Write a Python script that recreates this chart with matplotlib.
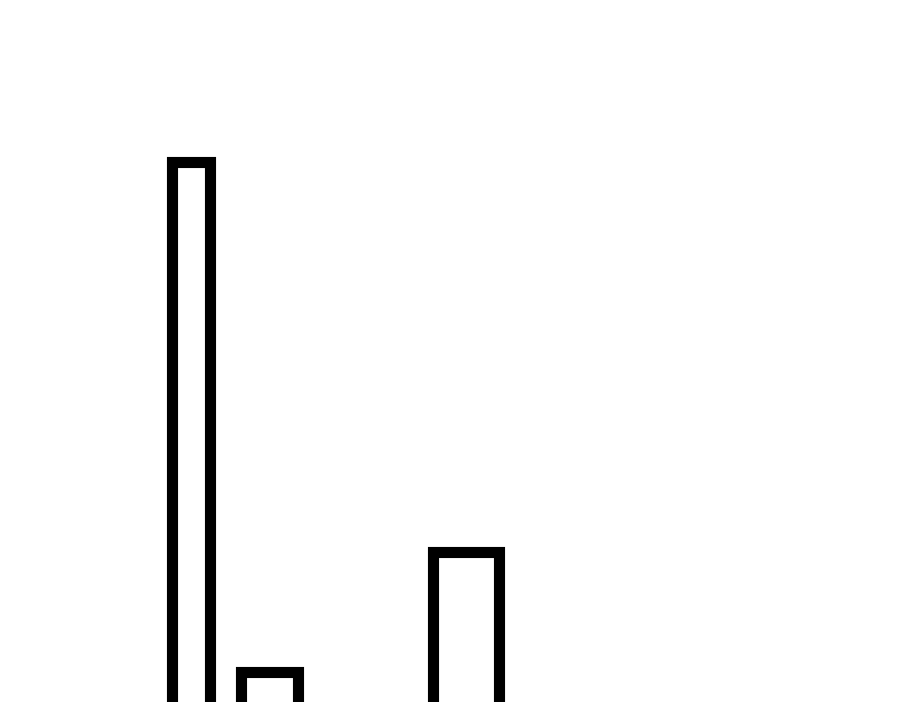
import matplotlib
matplotlib.use("Agg")
import matplotlib.pyplot as plt

# bar data (left edge, width, height above a baseline that sits below the visible area)
lefts = [172, 241, 433]
widths = [38, 57, 66]
heights = [558, 48, 168]

fig = plt.figure(figsize=(9, 7.02), dpi=100)
ax = fig.add_axes([0, 0, 1, 1])

ax.bar(lefts, heights, width=widths, align='edge', fill=False,
       edgecolor='black', linewidth=8)

ax.set_xlim(0, 900)
ax.set_ylim(18, 720)
ax.axis('off')

fig.savefig("out.png", dpi=100)
